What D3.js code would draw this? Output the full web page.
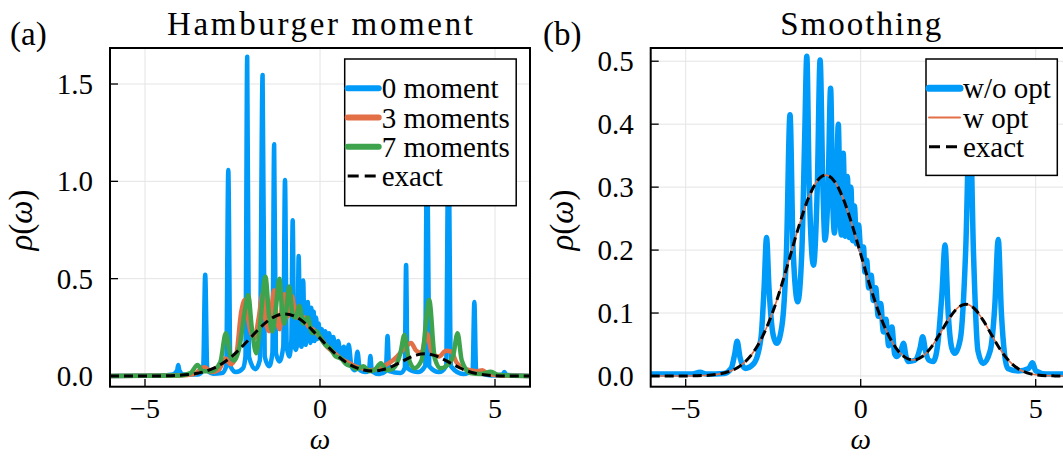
<!DOCTYPE html>
<html><head><meta charset="utf-8">
<script src="https://cdn.jsdelivr.net/npm/d3@7"></script>
<style>body{margin:0;background:#fff}svg{display:block}text{font-family:"Liberation Serif","DejaVu Serif","Times New Roman",serif;fill:#000}</style>
</head><body>
<svg id="c" width="1063" height="456"></svg>
<script>
// ---------- data ----------
const xTicks = [-5, 0, 5];
const yTicksA = [0.0, 0.5, 1.0, 1.5];
const yTicksB = [0.0, 0.1, 0.2, 0.3, 0.4, 0.5];

const exactX = [-6,-5.5,-5,-4.5,-4,-3.75,-3.5,-3.25,-3,-2.75,-2.5,-2.25,-2,-1.75,-1.5,-1.25,-1,-0.75,-0.5,-0.25,0,0.25,0.5,0.75,1,1.25,1.5,1.75,2,2.25,2.5,2.75,3,3.25,3.5,3.75,4,4.25,4.5,4.75,5,5.5,6];
const exactY = [0,0.00001,0.0001,0.0007,0.0036,0.0073,0.014,0.0254,0.0432,0.0691,0.1036,0.1461,0.1936,0.2409,0.2817,0.3093,0.3191,0.3093,0.2817,0.2409,0.1936,0.1462,0.1038,0.0698,0.0451,0.0304,0.0255,0.0304,0.0446,0.0658,0.0890,0.1072,0.1141,0.1070,0.0883,0.0642,0.0411,0.0232,0.0115,0.0050,0.0019,0.0002,0];
// "w opt" reads identical to exact
const wOptY = exactY.slice();

const moment0 = [[-6,0],[-4.6,0.002],[-4.2,0.008],[-4.08,0.03],[-4.05,0.056],[-4.02,0.03],[-3.9,0.008],[-3.5,0.008],[-3.34,0.03],[-3.28,0.52],[-3.22,0.03],[-3.05,0.012],[-2.8,0.015],[-2.68,0.05],[-2.62,1.058],[-2.56,0.05],[-2.4,0.02],[-2.2,0.04],[-2.13,0.1],[-2.08,1.64],[-2.03,0.1],[-1.85,0.035],[-1.72,0.08],[-1.64,1.546],[-1.58,0.1],[-1.45,0.05],[-1.36,0.12],[-1.31,1.19],[-1.26,0.12],[-1.16,0.075],[-1.05,0.15],[-1.0,1.007],[-0.95,0.15],[-0.88,0.1],[-0.82,0.18],[-0.78,0.80],[-0.74,0.18],[-0.69,0.134],[-0.64,0.2],[-0.61,0.616],[-0.57,0.2],[-0.53,0.15],[-0.5,0.25],[-0.48,0.49],[-0.45,0.25],[-0.41,0.16],[-0.38,0.27],[-0.35,0.38],[-0.32,0.25],[-0.28,0.17],[-0.25,0.35],[-0.22,0.18],[-0.18,0.33],[-0.15,0.18],[-0.11,0.3],[-0.08,0.19],[-0.04,0.27],[0.0,0.2],[0.05,0.24],[0.1,0.19],[0.15,0.23],[0.2,0.17],[0.26,0.22],[0.32,0.15],[0.38,0.2],[0.45,0.12],[0.52,0.18],[0.6,0.09],[0.68,0.15],[0.75,0.07],[0.82,0.16],[0.9,0.05],[1.0,0.03],[1.07,0.125],[1.14,0.03],[1.3,0.02],[1.4,0.03],[1.44,0.103],[1.48,0.025],[1.7,0.01],[1.88,0.025],[1.93,0.205],[1.98,0.025],[2.3,0.015],[2.42,0.04],[2.46,0.57],[2.5,0.04],[2.8,0.02],[3.0,0.05],[3.06,1.3],[3.12,0.05],[3.4,0.02],[3.6,0.05],[3.67,1.25],[3.74,0.05],[4.1,0.01],[4.36,0.03],[4.41,0.38],[4.46,0.03],[4.9,0.003],[5.22,0.008],[5.27,0.02],[5.32,0.006],[6,0]];

const moment3 = [[-6,0],[-4.0,0.003],[-3.6,0.01],[-3.3,0.045],[-3.1,0.02],[-2.9,0.03],[-2.7,0.09],[-2.55,0.06],[-2.4,0.1],[-2.25,0.33],[-2.15,0.39],[-2.0,0.24],[-1.88,0.19],[-1.75,0.3],[-1.64,0.42],[-1.55,0.28],[-1.45,0.23],[-1.38,0.35],[-1.31,0.44],[-1.24,0.3],[-1.15,0.24],[-1.08,0.38],[-1.02,0.42],[-0.95,0.3],[-0.88,0.33],[-0.8,0.41],[-0.72,0.33],[-0.66,0.3],[-0.6,0.36],[-0.52,0.29],[-0.44,0.3],[-0.35,0.26],[-0.2,0.24],[0.0,0.2],[0.2,0.15],[0.4,0.12],[0.6,0.09],[0.8,0.07],[1.0,0.05],[1.2,0.04],[1.4,0.03],[1.6,0.035],[1.8,0.05],[2.0,0.07],[2.2,0.1],[2.4,0.14],[2.6,0.17],[2.75,0.13],[2.9,0.12],[3.05,0.22],[3.2,0.12],[3.4,0.1],[3.6,0.13],[3.75,0.125],[3.9,0.07],[4.1,0.04],[4.3,0.03],[4.5,0.025],[4.64,0.03],[4.8,0.01],[5.2,0.003],[6,0]];

const moment7 = [[-6,0],[-4.0,0.003],[-3.7,0.015],[-3.5,0.056],[-3.35,0.025],[-3.1,0.025],[-2.85,0.07],[-2.69,0.22],[-2.55,0.1],[-2.45,0.08],[-2.3,0.15],[-2.15,0.33],[-2.05,0.416],[-1.95,0.25],[-1.82,0.117],[-1.72,0.25],[-1.56,0.51],[-1.45,0.3],[-1.36,0.23],[-1.26,0.35],[-1.16,0.50],[-1.08,0.33],[-1.02,0.27],[-0.95,0.36],[-0.88,0.46],[-0.78,0.31],[-0.7,0.3],[-0.59,0.36],[-0.48,0.27],[-0.35,0.30],[-0.22,0.22],[-0.1,0.23],[0.0,0.2],[0.15,0.16],[0.3,0.14],[0.45,0.1],[0.6,0.09],[0.75,0.06],[0.9,0.05],[1.05,0.035],[1.24,0.05],[1.4,0.025],[1.55,0.03],[1.74,0.066],[1.9,0.03],[2.1,0.04],[2.3,0.12],[2.41,0.21],[2.52,0.1],[2.7,0.04],[2.9,0.08],[3.12,0.39],[3.28,0.09],[3.45,0.04],[3.6,0.05],[3.8,0.1],[3.93,0.22],[4.05,0.08],[4.3,0.015],[4.6,0.01],[4.88,0.022],[5.1,0.005],[6,0]];

const woOpt = [[-6,0.003],[-4.8,0.003],[-4.59,0.006],[-4.4,0.003],[-3.9,0.004],[-3.7,0.012],[-3.6,0.035],[-3.53,0.055],[-3.45,0.03],[-3.3,0.012],[-3.05,0.02],[-2.85,0.06],[-2.76,0.14],[-2.69,0.22],[-2.62,0.14],[-2.5,0.065],[-2.4,0.052],[-2.25,0.08],[-2.12,0.2],[-2.02,0.415],[-1.93,0.2],[-1.8,0.118],[-1.68,0.2],[-1.6,0.38],[-1.54,0.508],[-1.47,0.3],[-1.35,0.176],[-1.24,0.3],[-1.16,0.502],[-1.08,0.3],[-1.02,0.216],[-0.93,0.3],[-0.86,0.457],[-0.8,0.28],[-0.75,0.227],[-0.69,0.3],[-0.64,0.40],[-0.59,0.26],[-0.55,0.224],[-0.5,0.354],[-0.44,0.222],[-0.38,0.317],[-0.33,0.22],[-0.28,0.30],[-0.23,0.215],[-0.18,0.27],[-0.12,0.21],[-0.06,0.24],[0.0,0.2],[0.08,0.205],[0.12,0.165],[0.17,0.184],[0.23,0.14],[0.3,0.16],[0.36,0.12],[0.43,0.14],[0.5,0.095],[0.57,0.115],[0.65,0.07],[0.72,0.09],[0.8,0.048],[0.89,0.078],[0.97,0.035],[1.03,0.031],[1.15,0.04],[1.22,0.052],[1.3,0.03],[1.36,0.023],[1.55,0.025],[1.7,0.045],[1.77,0.0625],[1.85,0.04],[1.95,0.025],[2.07,0.023],[2.2,0.05],[2.32,0.13],[2.41,0.208],[2.5,0.1],[2.6,0.045],[2.69,0.036],[2.85,0.06],[3.0,0.2],[3.12,0.42],[3.22,0.2],[3.35,0.04],[3.5,0.02],[3.7,0.04],[3.83,0.11],[3.93,0.217],[4.02,0.1],[4.2,0.012],[4.5,0.008],[4.8,0.012],[4.91,0.021],[5.0,0.008],[5.3,0.003],[6,0.003]];

const legendA = ["0 moment", "3 moments", "7 moments", "exact"];
const legendB = ["w/o opt", "w opt", "exact"];

// ---------- styles ----------
const BLUE = "#009af9", ORANGE = "#e26f46", GREEN = "#3da44d";
const svg = d3.select("#c");

const exactPts = exactX.map((x, i) => [x, exactY[i]]);
const wOptPts = exactX.map((x, i) => [x, wOptY[i]]);

function panel(cfg) {
  const x = d3.scaleLinear().domain([-6, 6]).range([cfg.x0, cfg.x0 + 420]);
  const y = d3.scaleLinear().domain(cfg.yDom).range([386.7, 48]);
  const g = svg.append("g");
  const id = "clip" + cfg.key;
  svg.append("defs").append("clipPath").attr("id", id).append("rect")
    .attr("x", cfg.x0).attr("y", 48).attr("width", 420).attr("height", 338.7);
  // grid
  g.selectAll(".gx").data(xTicks).enter().append("line")
    .attr("x1", d => x(d)).attr("x2", d => x(d)).attr("y1", 48).attr("y2", 386.7)
    .attr("stroke", "#e4e4e4").attr("stroke-width", 1);
  g.selectAll(".gy").data(cfg.yTicks).enter().append("line")
    .attr("x1", cfg.x0).attr("x2", cfg.x0 + 420).attr("y1", d => y(d)).attr("y2", d => y(d))
    .attr("stroke", "#e4e4e4").attr("stroke-width", 1);
  // series
  const line = d3.line().x(d => x(d[0])).y(d => y(d[1])).curve(d3.curveMonotoneX);
  const sg = g.append("g").attr("clip-path", `url(#${id})`);
  cfg.series.forEach(s => {
    sg.append("path").attr("d", line(s.data)).attr("fill", "none")
      .attr("stroke", s.color).attr("stroke-width", s.w)
      .attr("stroke-dasharray", s.dash || null)
      .attr("stroke-linejoin", "round").attr("stroke-linecap", s.dash ? "butt" : "round");
  });
  // ticks
  g.selectAll(".tx").data(xTicks).enter().append("line")
    .attr("x1", d => x(d)).attr("x2", d => x(d)).attr("y1", 386.7).attr("y2", 379)
    .attr("stroke", "#000").attr("stroke-width", 1.3);
  g.selectAll(".ty").data(cfg.yTicks).enter().append("line")
    .attr("x1", cfg.x0).attr("x2", cfg.x0 + 8).attr("y1", d => y(d)).attr("y2", d => y(d))
    .attr("stroke", "#000").attr("stroke-width", 1.3);
  // frame
  g.append("rect").attr("x", cfg.x0).attr("y", 48).attr("width", 420).attr("height", 338.7)
    .attr("fill", "none").attr("stroke", "#000").attr("stroke-width", 2);
  // tick labels
  g.selectAll(".lx").data(xTicks).enter().append("text")
    .attr("x", d => x(d)).attr("y", 418).attr("text-anchor", "middle")
    .attr("font-size", 28).text(d => d < 0 ? "\u2212" + Math.abs(d) : d);
  g.selectAll(".ly").data(cfg.yTicks).enter().append("text")
    .attr("x", cfg.x0 - 17).attr("y", d => y(d) + 10).attr("text-anchor", "end")
    .attr("font-size", 29).text(d => d.toFixed(1));
  // axis labels
  const yl = g.append("text").attr("transform", `translate(${cfg.x0 - 78},220) rotate(-90)`)
    .attr("text-anchor", "middle").attr("font-size", 33);
  yl.append("tspan").attr("font-style", "italic").text("\u03c1");
  yl.append("tspan").text("(");
  yl.append("tspan").attr("font-style", "italic").text("\u03c9");
  yl.append("tspan").text(")");
  g.append("text").attr("x", x(0)).attr("y", 449).attr("text-anchor", "middle")
    .attr("font-size", 29).attr("font-style", "italic").text("\u03c9");
  // title
  g.append("text").attr("x", cfg.x0 + 210).attr("y", 35).attr("text-anchor", "middle")
    .attr("font-size", 33).attr("textLength", cfg.titleW).attr("lengthAdjust", "spacing")
    .text(cfg.title);
  g.append("text").attr("x", cfg.tagX).attr("y", 45).attr("font-size", 33).text(cfg.tag);
  // legend
  const L = cfg.legend;
  const lg = g.append("g");
  lg.append("rect").attr("x", L.x).attr("y", 59).attr("width", L.w).attr("height", L.h)
    .attr("fill", "#fff").attr("stroke", "#000").attr("stroke-width", 1.5);
  L.items.forEach((it, i) => {
    const yy = 88.3 + i * 29.2;
    lg.append("line").attr("x1", L.x + 3).attr("x2", L.x + 34).attr("y1", yy).attr("y2", yy)
      .attr("stroke", it.color).attr("stroke-width", it.w)
      .attr("stroke-dasharray", it.dash || null).attr("stroke-linecap", it.dash ? "butt" : "round");
    lg.append("text").attr("x", L.x + 37).attr("y", yy + 10).attr("font-size", 29).text(it.label);
  });
}

panel({
  key: "a", x0: 110, yDom: [-0.055, 1.685], yTicks: yTicksA,
  title: "Hamburger moment", titleW: 306, tag: "(a)", tagX: 10,
  series: [
    {data: moment0, color: BLUE, w: 4.5},
    {data: moment3, color: ORANGE, w: 4.5},
    {data: moment7, color: GREEN, w: 4.5},
    {data: exactPts, color: "#000", w: 3, dash: "9,5"}
  ],
  legend: {x: 344.7, w: 171.5, h: 146.7, items: [
    {label: legendA[0], color: BLUE, w: 6},
    {label: legendA[1], color: ORANGE, w: 6},
    {label: legendA[2], color: GREEN, w: 6},
    {label: legendA[3], color: "#000", w: 3, dash: "11,6"}
  ]}
});

panel({
  key: "b", x0: 650.7, yDom: [-0.017, 0.521], yTicks: yTicksB,
  title: "Smoothing", titleW: 161, tag: "(b)", tagX: 543,
  series: [
    {data: woOpt, color: BLUE, w: 5.5},
    {data: wOptPts, color: ORANGE, w: 1.6},
    {data: exactPts, color: "#000", w: 3, dash: "9,5"}
  ],
  legend: {x: 926, w: 131.3, h: 116.4, items: [
    {label: legendB[0], color: BLUE, w: 7},
    {label: legendB[1], color: ORANGE, w: 2},
    {label: legendB[2], color: "#000", w: 3, dash: "11,6"}
  ]}
});
</script>
</body></html>
